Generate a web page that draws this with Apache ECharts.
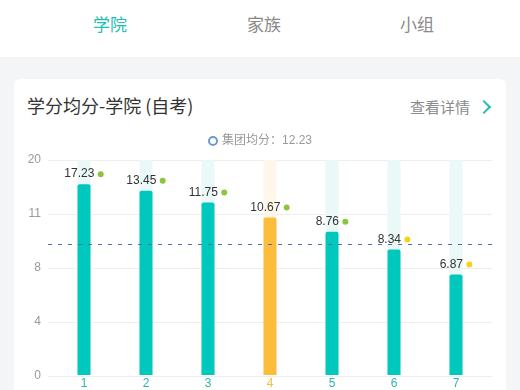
<!DOCTYPE html>
<html>
<head>
<meta charset="utf-8">
<script src="https://cdn.jsdelivr.net/npm/echarts@6/dist/echarts.min.js"></script>
<style>
html,body{margin:0;padding:0;width:520px;height:390px;overflow:hidden;background:#f4f5f7;font-family:"Noto Sans CJK SC",sans-serif;}
#header{position:absolute;left:0;top:0;width:520px;height:57px;background:#fff;}
.tab{position:absolute;top:12px;font-size:17px;line-height:24px;color:#8a8a8a;transform:translateX(-50%);white-space:nowrap;}
.tab.active{color:#1fbfb1;}
#card{position:absolute;left:14px;top:79px;width:492px;height:340px;background:#fff;border-radius:6px;}
#title{position:absolute;left:27px;top:93px;font-size:18px;line-height:24px;color:#333;white-space:nowrap;}
#more{position:absolute;left:410px;top:96px;font-size:15px;line-height:22px;color:#8a8a8a;white-space:nowrap;}
#chev{position:absolute;left:479px;top:102px;width:8px;height:8px;border-top:2.5px solid #1fbfb1;border-right:2.5px solid #1fbfb1;transform:rotate(45deg);}
#chart{position:absolute;left:0;top:0;width:520px;height:390px;}
</style>
</head>
<body>
<div id="header">
  <div class="tab active" style="left:110px">学院</div>
  <div class="tab" style="left:264px">家族</div>
  <div class="tab" style="left:417px">小组</div>
</div>
<div id="card"></div>
<div id="title">学分均分-学院 (自考)</div>
<div id="more">查看详情</div>
<div id="chev"></div>
<div id="chart"></div>
<script>
// ---- data ----
var categories = ['1','2','3','4','5','6','7'];
var barValues = [17.75, 17.13, 16.05, 14.66, 13.33, 11.67, 9.35];
var barLabels = ['17.23','13.45','11.75','10.67','8.76','8.34','6.87'];
var highlightIndex = 3;
var groupAvg = 12.23;
var avgName = '集团均分：12.23';
var yTickLabels = ['0','4','8','11','20'];
var yMin = 0, yMax = 20, yInterval = 5;

// ---- styles ----
var TEAL = '#00c8bd', TEAL_BG = '#eaf8f8';
var ORANGE = '#fcbd3c', ORANGE_BG = '#fff8ea';
var GREEN_DOT = '#8cc63f', YELLOW_DOT = '#f4d41a';
var FONT = '"Liberation Sans","Noto Sans CJK SC",sans-serif';

var chart = echarts.init(document.getElementById('chart'), null, {renderer:'canvas'});

var mainData = barValues.map(function(v, i){
  var hi = i === highlightIndex;
  return {
    value: v,
    itemStyle: {color: hi ? ORANGE : TEAL, borderRadius: [2,2,0,0]},
    label: {formatter: '{v|' + barLabels[i] + '} {' + (v >= groupAvg ? 'g' : 'y') + '|}'}
  };
});
var bgData = categories.map(function(c, i){
  return {value: yMax, itemStyle: {color: i === highlightIndex ? ORANGE_BG : TEAL_BG}};
});

var option = {
  animation: false,
  textStyle: {fontFamily: FONT},
  legend: {
    top: 130, left: 'center',
    icon: 'emptyCircle', itemWidth: 8, itemHeight: 8, itemGap: 10,
    data: [avgName],
    itemStyle: {borderWidth: 1.5},
    textStyle: {color: '#999', fontSize: 12, fontFamily: FONT}
  },
  grid: [
    {left: 48, right: 28, top: 160, bottom: 14},
    {left: 53, right: 33, top: 160, bottom: 14}
  ],
  xAxis: [
    {gridIndex: 0, type: 'category', data: categories, show: false},
    {gridIndex: 1, type: 'category', data: categories,
     axisLine: {show: false}, axisTick: {show: false},
     axisLabel: {margin: 3, fontSize: 12, fontFamily: FONT,
       color: function(v, i){ return i === highlightIndex ? ORANGE : '#2ab7ae'; }}}
  ],
  yAxis: [
    {gridIndex: 0, type: 'value', min: yMin, max: yMax, interval: yInterval,
     axisLine: {show: false}, axisTick: {show: false},
     splitLine: {lineStyle: {color: '#eeeeee', width: 1}},
     axisLabel: {margin: 7, color: '#999', fontSize: 12, fontFamily: FONT,
       formatter: function(v){ return yTickLabels[Math.round((v - yMin) / yInterval)]; }}},
    {gridIndex: 1, type: 'value', min: yMin, max: yMax, interval: yInterval, show: false, splitLine: {show: false}}
  ],
  series: [
    {
      name: avgName, type: 'line', xAxisIndex: 0, yAxisIndex: 0,
      data: categories.map(function(){ return null; }),
      symbol: 'none', color: '#6b9bd2', lineStyle: {opacity: 0},
      markLine: {
        silent: true, symbol: ['none','none'], label: {show: false},
        lineStyle: {color: '#4c6fa8', type: [4, 6], width: 1},
        data: [{yAxis: groupAvg}]
      }
    },
    {
      type: 'bar', xAxisIndex: 1, yAxisIndex: 1, barWidth: 13, barGap: '-100%',
      data: bgData, silent: true, z: 1
    },
    {
      type: 'bar', xAxisIndex: 1, yAxisIndex: 1, barWidth: 13, z: 2,
      data: mainData,
      label: {
        show: true, position: 'top', distance: 3,
        rich: {
          v: {fontSize: 12, color: '#333', fontFamily: FONT, lineHeight: 14, verticalAlign: 'middle'},
          g: {width: 6, height: 6, borderRadius: 3, backgroundColor: GREEN_DOT, verticalAlign: 'middle'},
          y: {width: 6, height: 6, borderRadius: 3, backgroundColor: YELLOW_DOT, verticalAlign: 'middle'}
        }
      }
    }
  ]
};
chart.setOption(option);
</script>
</body>
</html>
